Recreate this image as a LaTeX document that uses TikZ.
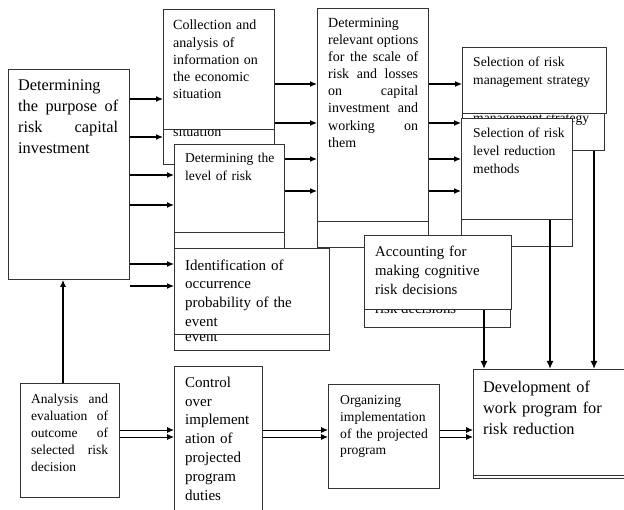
\documentclass[tikz,border=0pt]{standalone}
\usepackage{fontspec}
\setmainfont{Liberation Serif}
\usetikzlibrary{arrows.meta}
\newcommand\myfs[2]{\fontsize{#1}{#2}\selectfont}
\begin{document}
\begin{tikzpicture}[x=1pt,y=-1pt,
  box/.style={draw=black!80, line width=0.8pt, fill=white, anchor=north west, inner sep=0pt},
  txt/.style={anchor=north west, inner sep=0pt, align=left},
  jtxt/.style={anchor=north west, inner sep=0pt, align=justify},
  gtxt/.style={anchor=base west, inner sep=0pt},
  arr/.style={line width=1.1pt, -{Latex[length=7pt,width=6pt]}},
  varr/.style={line width=1.7pt, -{Latex[length=8pt,width=7pt]}},
]
\useasboundingbox (0,0) rectangle (624,510);

% ghost boxes
\node[box, minimum width=111pt, minimum height=114pt] (Bg) at (163,50) {};
\node[gtxt, font=\myfs{14}{17}] (Bgt) at (173,137) {situation};
\node[box, minimum width=110pt, minimum height=88pt] (Cg) at (174,160) {};
\node[box, minimum width=155pt, minimum height=86pt] (Dg) at (174,264) {};
\node[gtxt, font=\myfs{15}{18.7}] (Dgt) at (185,341.5) {event};
\node[box, minimum width=111pt, minimum height=217pt] (Eg) at (317,30) {};
\node[box, minimum width=142pt, minimum height=70pt] (Fg) at (462,80) {};
\node[gtxt, font=\myfs{13.6}{18}] (Fgt) at (473,122.5) {management strategy};
\node[box, minimum width=111pt, minimum height=106pt] (Gg) at (461,140) {};
\node[box, minimum width=146pt, minimum height=75pt] (Hg) at (364,252) {};
\node[gtxt, font=\myfs{14.8}{19.2}] (Hgt) at (375,313.5) {risk decisions};
\node[box, minimum width=160pt, minimum height=106pt] (Lg) at (473,371.5) {};

% main boxes
\node[box, minimum width=121pt, minimum height=210pt] (A) at (8,69) {};
\node[box, minimum width=111pt, minimum height=120pt] (B) at (163,9) {};
\node[box, minimum width=110pt, minimum height=88pt] (C) at (174,144) {};
\node[box, minimum width=155pt, minimum height=86pt] (D) at (174,248) {};
\node[box, minimum width=111pt, minimum height=213pt] (E) at (317,8) {};
\node[box, minimum width=144pt, minimum height=66pt] (F) at (462,47) {};
\node[box, minimum width=111pt, minimum height=101pt] (G) at (461,118) {};
\node[box, minimum width=147pt, minimum height=74pt] (H) at (364,235) {};
\node[box, minimum width=99pt, minimum height=114pt] (I) at (20,383) {};
\node[box, minimum width=88pt, minimum height=160pt] (J) at (174,366) {};
\node[box, minimum width=111pt, minimum height=104pt] (K) at (328,384) {};
\node[box, minimum width=160pt, minimum height=106pt] (L) at (473,369) {};

% texts
\node[jtxt, text width=100pt, font=\myfs{16.3}{20.7}] (At) at (18,80) {Determining\\ the purpose of\linebreak risk capital\linebreak investment};
\node[txt, text width=95pt, font=\myfs{14}{17.2}] (Bt) at (173,20) {Collection and\\ analysis of\\ information on\\ the economic\\ situation};
\node[txt, text width=95pt, font=\myfs{13.5}{17.7}] (Ct) at (185,153) {Determining the\\ level of risk};
\node[txt, text width=140pt, font=\myfs{15}{18.7}] (Dt) at (185,259.5) {Identification of\\ occurrence\\ probability of the\\ event};
\node[jtxt, text width=90pt, font=\myfs{14}{17.1}] (Et) at (328,18) {Determining\\ relevant options\linebreak for the scale of\linebreak risk and losses\linebreak on capital\linebreak investment and\linebreak working on\linebreak them};
\node[txt, text width=130pt, font=\myfs{13.6}{18.2}] (Ft) at (473,57) {Selection of risk\\ management strategy};
\node[txt, text width=98pt, font=\myfs{13.6}{17.8}] (Gt) at (473,128) {Selection of risk\\ level reduction\\ methods};
\node[txt, text width=135pt, font=\myfs{14.8}{19.2}] (Ht) at (375,245.5) {Accounting for\\ making cognitive\\ risk decisions};
\node[jtxt, text width=77pt, font=\myfs{13.5}{17}] (It) at (31,393.5) {Analysis and\linebreak evaluation of\linebreak outcome of\linebreak selected risk\linebreak decision};
\node[txt, text width=77pt, font=\myfs{15}{18.9}] (Jt) at (185,376.5) {Control\\ over\\ implement\\ ation of\\ projected\\ program\\ duties};
\node[txt, text width=98pt, font=\myfs{13.6}{16.7}] (Kt) at (340,395.5) {Organizing\\ implementation\\ of the projected\\ program};
\node[txt, text width=140pt, font=\myfs{16.3}{20.8}] (Lt) at (483,381) {Development of\\ work program for\\ risk reduction};

% arrows from A
\draw[arr] (A.east |- 0,99) -- (B.west |- 0,99);
\draw[arr] (A.east |- 0,137) -- (Bg.west |- 0,137);
\draw[arr] (A.east |- 0,175) -- (C.west |- 0,175);
\draw[arr] (A.east |- 0,205) -- (C.west |- 0,205);
\draw[arr] (A.east |- 0,264) -- (D.west |- 0,264);
\draw[arr] (A.east |- 0,286) -- (D.west |- 0,286);
% to E
\draw[arr] (B.east |- 0,84) -- (E.west |- 0,84);
\draw[arr] (B.east |- 0,123) -- (E.west |- 0,123);
\draw[arr] (C.east |- 0,159) -- (E.west |- 0,159);
\draw[arr] (C.east |- 0,191) -- (E.west |- 0,191);
% from E
\draw[arr] (E.east |- 0,84) -- (F.west |- 0,84);
\draw[arr] (E.east |- 0,123) -- (G.west |- 0,123);
\draw[arr] (E.east |- 0,159) -- (G.west |- 0,159);
\draw[arr] (E.east |- 0,191) -- (G.west |- 0,191);
% down to L
\draw[varr] (H.south -| 484,0) -- (L.north -| 484,0);
\draw[varr] (G.south -| 550,0) -- (L.north -| 550,0);
\draw[varr] (Fg.south -| 594,0) -- (L.north -| 594,0);
% up from I to A
\draw[arr, line width=1.5pt] (I.north -| 63,0) -- (A.south -| 63,0);
% double arrows bottom row
\draw[arr, line width=0.9pt] (I.east |- 0,430) -- (J.west |- 0,430);
\draw[arr, line width=0.9pt] (I.east |- 0,437) -- (J.west |- 0,437);
\draw[arr, line width=0.9pt] (J.east |- 0,430) -- (K.west |- 0,430);
\draw[arr, line width=0.9pt] (J.east |- 0,437) -- (K.west |- 0,437);
\draw[arr, line width=0.9pt] (K.east |- 0,430) -- (L.west |- 0,430);
\draw[arr, line width=0.9pt] (K.east |- 0,437) -- (L.west |- 0,437);
\end{tikzpicture}
\end{document}
